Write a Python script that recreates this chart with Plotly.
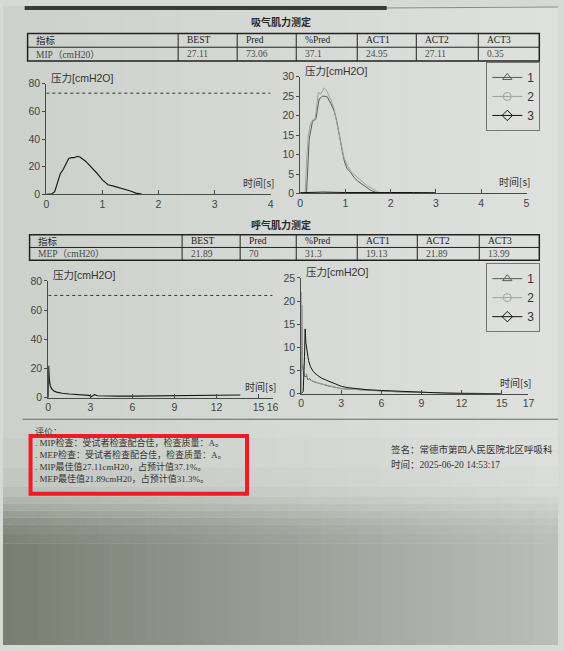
import plotly.graph_objects as go

# ---------------- DATA ----------------
TITLE_MIP = "吸气肌力测定"
TITLE_MEP = "呼气肌力测定"
TABLE_HEADERS = ["指标", "BEST", "Pred", "%Pred", "ACT1", "ACT2", "ACT3"]
MIP_ROW = ["MIP（cmH20）", "27.11", "73.06", "37.1", "24.95", "27.11", "0.35"]
MEP_ROW = ["MEP（cmH20）", "21.89", "70", "31.3", "19.13", "21.89", "13.99"]

MIP_PRED = 73.06
MEP_PRED = 70

MIP_BEST_T = [0, 0.1, 0.15, 0.2, 0.25, 0.3, 0.35, 0.4, 0.45, 0.5, 0.55, 0.6, 0.7, 0.8, 0.9,
              1.0, 1.1, 1.2, 1.3, 1.4, 1.5, 1.6, 1.7]
MIP_BEST_P = [0, 0.5, 2, 9, 15, 18, 22, 26, 26.5, 26.5, 27.5, 27, 24, 20, 15.5,
              10.5, 7, 6, 5, 3.5, 2.5, 1, 0.3]

MIP1_T = [0, 0.14, 0.17, 0.2, 0.24, 0.27, 0.31, 0.35, 0.38, 0.42, 0.46, 0.49, 0.55, 0.6, 0.68,
          0.75, 0.81, 0.86, 0.92, 0.97, 1.03, 1.12, 1.2, 1.27, 1.35, 1.45, 1.56, 1.67, 1.75]
MIP1_P = [0, 0.3, 7, 14, 16.5, 18.4, 18.8, 19.2, 21.5, 24.3, 24.6, 25, 24.95, 24.8, 23,
          21.2, 18.5, 14.9, 11.5, 8.6, 6.5, 5.3, 4, 3.2, 2.5, 1.6, 0.8, 0.3, 0]
MIP2_T = [0, 0.11, 0.14, 0.18, 0.22, 0.25, 0.29, 0.33, 0.37, 0.4, 0.45, 0.49, 0.53, 0.56, 0.6,
          0.68, 0.75, 0.82, 0.9, 0.97, 1.05, 1.12, 1.2, 1.27, 1.38, 1.49, 1.56, 1.63, 1.74, 1.8]
MIP2_P = [0, 0.3, 8, 15, 17.5, 18.4, 19, 19.2, 23, 26, 25.5, 26.5, 27.11, 26.8, 26,
          24, 21.7, 17.5, 13, 9.1, 7, 5.7, 4.8, 4, 3, 1.9, 1.4, 1.1, 0.3, 0]
MIP3_T = [0, 0.5, 1.0, 1.5, 2.0, 2.5, 3.0]
MIP3_P = [0.2, 0.35, 0.25, 0.3, 0.2, 0.25, 0.2]

MEP_BEST_T = [0, 0.03, 0.06, 0.1, 0.15, 0.25, 0.4, 0.6, 0.8, 1.0, 1.5, 2.0, 2.5, 2.9, 3.05,
              3.15, 3.3, 3.5, 4.0, 5.0, 6.0, 7.0, 8.0, 9.0, 10.0, 11.0, 12.0, 13.0, 13.7]
MEP_BEST_P = [0, 21.89, 15, 10.5, 8, 6, 4.5, 3.8, 3.2, 3, 2.5, 2.1, 1.9, 1.6, 0.6,
              1.2, 2.1, 1.3, 1.1, 1.0, 1.1, 1.2, 1.3, 1.5, 1.6, 1.7, 1.8, 1.8, 1.8]

MEP1_T = [0, 0.04, 0.07, 0.1, 0.15, 0.2, 0.3, 0.4, 0.5, 0.6, 0.8, 1.0, 1.3, 1.6, 2.0,
          2.5, 3.0, 3.5, 4.0, 5.0, 6.0, 7.0, 8.0, 9.0, 10.0, 11.0, 12.0, 13.0, 14.0, 14.8]
MEP1_P = [0, 19.13, 9, 6, 5, 4.2, 3.6, 3.9, 3.0, 3.3, 2.8, 2.5, 2.3, 2.0, 1.7,
          1.4, 1.1, 1.0, 0.9, 0.7, 0.55, 0.45, 0.35, 0.25, 0.2, 0.15, 0.1, 0.08, 0.05, 0]
MEP2_T = [0, 0.02, 0.05, 0.09, 0.14, 0.2, 0.3, 0.4, 0.5, 0.7, 0.9, 1.2, 1.5, 2.0, 2.5,
          3.0, 3.5, 4.0, 5.0, 6.0, 7.0, 8.0, 9.0, 10.0, 11.0, 12.0, 13.0, 14.0, 14.8]
MEP2_P = [0, 21.89, 11, 7, 5.5, 4.6, 4.0, 4.4, 3.3, 2.9, 2.7, 2.4, 2.1, 1.8, 1.5,
          1.1, 1.0, 0.9, 0.7, 0.5, 0.45, 0.35, 0.25, 0.18, 0.12, 0.1, 0.07, 0.04, 0]
MEP3_T = [0, 0.15, 0.25, 0.3, 0.35, 0.45, 0.55, 0.7, 0.9, 1.2, 1.5, 1.9, 2.2, 2.6, 3.0,
          3.5, 4.0, 4.5, 5.0, 6.0, 7.0, 8.0, 9.0, 10.0, 11.0, 12.0, 13.0, 14.0, 15.0]
MEP3_P = [0, 0.5, 8, 13.99, 11, 8.5, 7.2, 5.8, 4.8, 4.0, 3.4, 2.9, 2.5, 2.1, 1.6,
          1.3, 1.1, 0.95, 0.85, 0.7, 0.55, 0.4, 0.25, 0.15, 0.1, 0.05, 0.03, 0.01, 0]

TRIAL_NAMES = ["1", "2", "3"]

MIP_X_TICKS = [0, 1, 2, 3, 4]
MIP_Y_TICKS = [0, 20, 40, 60, 80]
MIP_TRIAL_X_TICKS = [0, 1, 2, 3, 4, 5]
MIP_TRIAL_Y_TICKS = [0, 5, 10, 15, 20, 25, 30]
MEP_X_TICKS = [0, 3, 6, 9, 12, 15, 16]
MEP_Y_TICKS = [0, 20, 40, 60, 80]
MEP_TRIAL_X_TICKS = [0, 3, 6, 9, 12, 15, 17]
MEP_TRIAL_Y_TICKS = [0, 5, 10, 15, 20, 25]

Y_LABEL = "压力[cmH2O]"
X_LABEL = "时间[s]"

COMMENT_TITLE = "评价："
COMMENT_LINES = [
    ". MIP检查：受试者检查配合佳，检查质量：A。",
    ". MEP检查：受试者检查配合佳，检查质量：A。",
    ". MIP最佳值27.11cmH20，占预计值37.1%。",
    ". MEP最佳值21.89cmH20，占预计值31.3%。",
]
SIGN_LINE = "签名：常德市第四人民医院北区呼吸科"
TIME_LINE = "时间：2025-06-20 14:53:17"

# ---------------- HELPERS ----------------
W, H = 564, 651
def px(x):
    return x / W
def py(y):
    return 1 - y / H

CJK = "Noto Sans CJK SC"
SERIF = "Liberation Serif, Noto Sans CJK SC"
SANS = "Liberation Sans, Arial, Noto Sans CJK SC"
INK = "#2a2a2a"
AXC = "#4a4a4a"
TRIAL_COLORS = ["#5a5a5a", "#a0a0a0", "#151515"]
TRIAL_SYMBOLS = ["triangle-up-open", "circle-open", "diamond-open"]

fig = go.Figure()
ann = []
shapes = []

# ---------------- BACKGROUND (photo shading) ----------------
def mix(c1, c2, f):
    return tuple(int(round(a + (b - a) * f)) for a, b in zip(c1, c2))

TOP_L, TOP_R = (205, 209, 204), (222, 225, 221)
BOT_L, BOT_R = (122, 126, 114), (186, 190, 187)
NS = 47
VSTEPS = [(0, 440, 0.0), (440, 470, 0.05), (470, 490, 0.12), (490, 500, 0.22), (500, 507, 0.34),
          (507, 514, 0.48), (514, 521, 0.62), (521, 528, 0.75), (528, 537, 0.86), (537, 548, 0.94),
          (548, H, 1.0)]
for i in range(NS):
    f = i / (NS - 1)
    x0, x1 = px(i * 12), px(min((i + 1) * 12 + 1, W))
    top = mix(TOP_L, TOP_R, f)
    bot = mix(BOT_L, BOT_R, f)
    for y0, y1, g in VSTEPS:
        col = mix(top, bot, g)
        shapes.append(dict(type="rect", xref="paper", yref="paper", x0=x0, x1=x1, y0=py(y1), y1=py(y0),
                           fillcolor="rgb(%d,%d,%d)" % col, line=dict(width=0), layer="below"))

# dark edge of the previous page at the top
shapes.append(dict(type="rect", xref="paper", yref="paper", x0=px(22), x1=px(390), y0=py(4), y1=py(0),
                   fillcolor="#3a3a3a", line=dict(width=0), layer="below"))
shapes.append(dict(type="line", xref="paper", yref="paper", x0=px(390), x1=px(564), y0=py(2), y1=py(1),
                   line=dict(color="#888", width=1), layer="below"))

# ---------------- TABLES (text from the row arrays) ----------------
def add_table(row, cols, y_top, y_mid, y_bot):
    shapes.append(dict(type="rect", xref="paper", yref="paper", x0=px(cols[0]), x1=px(cols[-1]),
                       y0=py(y_bot), y1=py(y_top), line=dict(color="#222", width=1.5)))
    shapes.append(dict(type="line", xref="paper", yref="paper", x0=px(cols[0]), x1=px(cols[-1]),
                       y0=py(y_mid), y1=py(y_mid), line=dict(color="#222", width=1)))
    for c in cols[1:-1]:
        shapes.append(dict(type="line", xref="paper", yref="paper", x0=px(c), x1=px(c),
                           y0=py(y_bot), y1=py(y_top), line=dict(color="#222", width=1)))
    for j, (h, v) in enumerate(zip(TABLE_HEADERS, row)):
        xl = cols[j] + 7
        ann.append(dict(text=h, x=px(xl), y=py((y_top + y_mid) / 2), xref="paper", yref="paper",
                        xanchor="left", yanchor="middle", showarrow=False,
                        font=dict(family=SERIF, size=9.5, color="#222")))
        ann.append(dict(text=v, x=px(xl), y=py((y_mid + y_bot) / 2), xref="paper", yref="paper",
                        xanchor="left", yanchor="middle", showarrow=False,
                        font=dict(family=SERIF, size=9.5, color="#4a4a4a")))

add_table(MIP_ROW, [25, 178, 238, 298, 360, 420, 483, 545], 28, 42, 56)
add_table(MEP_ROW, [27, 182, 241, 298, 360, 421, 484, 545], 233, 246, 259)

# ---------------- CURVES ----------------
fig.add_trace(go.Scatter(x=MIP_BEST_T, y=MIP_BEST_P, mode="lines", xaxis="x", yaxis="y",
                         line=dict(color="#1a1a1a", width=1.2), showlegend=False))
fig.add_trace(go.Scatter(x=[MIP_X_TICKS[0], MIP_X_TICKS[-1]], y=[MIP_PRED, MIP_PRED], mode="lines",
                         xaxis="x", yaxis="y", line=dict(color="#333", width=1, dash="dot"),
                         showlegend=False))
for t, p, c in zip([MIP1_T, MIP2_T, MIP3_T], [MIP1_P, MIP2_P, MIP3_P], TRIAL_COLORS):
    fig.add_trace(go.Scatter(x=t, y=p, mode="lines", xaxis="x2", yaxis="y2",
                             line=dict(color=c, width=1), showlegend=False))
fig.add_trace(go.Scatter(x=MEP_BEST_T, y=MEP_BEST_P, mode="lines", xaxis="x3", yaxis="y3",
                         line=dict(color="#1a1a1a", width=1.2), showlegend=False))
fig.add_trace(go.Scatter(x=[MEP_X_TICKS[0], MEP_X_TICKS[-1]], y=[MEP_PRED, MEP_PRED], mode="lines",
                         xaxis="x3", yaxis="y3", line=dict(color="#333", width=1, dash="dot"),
                         showlegend=False))
for t, p, c in zip([MEP1_T, MEP2_T, MEP3_T], [MEP1_P, MEP2_P, MEP3_P], TRIAL_COLORS):
    fig.add_trace(go.Scatter(x=t, y=p, mode="lines", xaxis="x4", yaxis="y4",
                             line=dict(color=c, width=1), showlegend=False))

# legend entries (line + open marker)
for lg, xa, ya in [("legend", "x2", "y2"), ("legend2", "x4", "y4")]:
    for name, c, s in zip(TRIAL_NAMES, TRIAL_COLORS, TRIAL_SYMBOLS):
        fig.add_trace(go.Scatter(x=[None], y=[None], mode="lines+markers", name=name,
                                 xaxis=xa, yaxis=ya, legend=lg,
                                 line=dict(color=c, width=1),
                                 marker=dict(symbol=s, size=8, color=c, line=dict(width=1, color=c))))

# ---------------- AXES ----------------
def xax(dom, ticks, anchor):
    return dict(domain=[px(dom[0]), px(dom[1])], range=[ticks[0], ticks[-1]], anchor=anchor,
                tickmode="array", tickvals=ticks, ticks="inside", ticklen=4, tickcolor=AXC,
                showline=True, linecolor=AXC, linewidth=1, showgrid=False, zeroline=False,
                tickfont=dict(family=SANS, size=10.5, color="#444"), fixedrange=True)

def yax(dom, ticks, anchor):
    return dict(domain=[py(dom[1]), py(dom[0])], range=[ticks[0], ticks[-1]], anchor=anchor,
                tickmode="array", tickvals=ticks, ticks="outside", ticklen=3, tickcolor=AXC,
                showline=True, linecolor=AXC, linewidth=1, showgrid=False, zeroline=False,
                tickfont=dict(family=SANS, size=10.5, color="#444"), fixedrange=True)

layout_axes = dict(
    xaxis=xax((44, 272), MIP_X_TICKS, "y"),
    yaxis=yax((79, 192), MIP_Y_TICKS, "x"),
    xaxis2=xax((302, 532), MIP_TRIAL_X_TICKS, "y2"),
    yaxis2=yax((72, 191), MIP_TRIAL_Y_TICKS, "x2"),
    xaxis3=xax((46, 274), MEP_X_TICKS, "y3"),
    yaxis3=yax((280, 399), MEP_Y_TICKS, "x3"),
    xaxis4=xax((303, 534), MEP_TRIAL_X_TICKS, "y4"),
    yaxis4=yax((277, 395), MEP_TRIAL_Y_TICKS, "x4"),
)

# ---------------- ANNOTATIONS ----------------
ann.append(dict(text=f"<b>{TITLE_MIP}</b>", x=px(282), y=py(16), xref="paper", yref="paper",
                xanchor="center", yanchor="middle",
                showarrow=False, font=dict(family=CJK, size=10, color=INK)))
ann.append(dict(text=f"<b>{TITLE_MEP}</b>", x=px(282), y=py(223), xref="paper", yref="paper",
                xanchor="center", yanchor="middle",
                showarrow=False, font=dict(family=CJK, size=10, color=INK)))

for xa, ya, xt, yt in [("x", "y", MIP_X_TICKS, MIP_Y_TICKS), ("x2", "y2", MIP_TRIAL_X_TICKS, MIP_TRIAL_Y_TICKS),
                       ("x3", "y3", MEP_X_TICKS, MEP_Y_TICKS), ("x4", "y4", MEP_TRIAL_X_TICKS, MEP_TRIAL_Y_TICKS)]:
    ann.append(dict(text=Y_LABEL, x=xt[0], y=yt[-1], xref=xa, yref=ya, xanchor="left", yanchor="middle",
                    xshift=3, yshift=6, showarrow=False, font=dict(family=SANS, size=10.5, color="#333")))
    ann.append(dict(text=X_LABEL, x=xt[-1], y=yt[0], xref=xa, yref=ya, xanchor="right", yanchor="bottom",
                    xshift=5, yshift=2, showarrow=False, font=dict(family=CJK, size=10, color="#333")))

ann.append(dict(text=COMMENT_TITLE, x=px(30), y=py(434), xref="paper", yref="paper", xanchor="left",
                yanchor="middle", showarrow=False, font=dict(family=SERIF, size=9, color="#444")))
for i, line in enumerate(COMMENT_LINES):
    ann.append(dict(text=line, x=px(30), y=py(445 + 12 * i), xref="paper", yref="paper", xanchor="left",
                    yanchor="middle", showarrow=False, font=dict(family=SERIF, size=9, color="#333")))
ann.append(dict(text=SIGN_LINE, x=px(392), y=py(452), xref="paper", yref="paper", xanchor="left",
                yanchor="middle", showarrow=False, font=dict(family=SERIF, size=9.5, color="#333")))
ann.append(dict(text=TIME_LINE, x=px(392), y=py(467), xref="paper", yref="paper", xanchor="left",
                yanchor="middle", showarrow=False, font=dict(family=SERIF, size=9.5, color="#333")))

# separator rule and red highlight box
shapes.append(dict(type="line", xref="paper", yref="paper", x0=px(20), x1=px(564), y0=py(421), y1=py(421),
                   line=dict(color="#666", width=1)))
shapes.append(dict(type="rect", xref="paper", yref="paper", x0=px(28), x1=px(248), y0=py(497), y1=py(438),
                   line=dict(color="#ee1c24", width=4)))

fig.update_layout(
    width=W, height=H, autosize=False,
    margin=dict(l=0, r=0, t=0, b=0),
    paper_bgcolor="#d6d9d5", plot_bgcolor="rgba(0,0,0,0)",
    annotations=ann, shapes=shapes,
    legend=dict(x=px(546), xanchor="right", y=py(57), yanchor="top", bgcolor="rgba(0,0,0,0)",
                bordercolor="#777", borderwidth=1, itemwidth=30, tracegroupgap=0,
                font=dict(family=SANS, size=12, color="#333")),
    legend2=dict(x=px(546), xanchor="right", y=py(262), yanchor="top", bgcolor="rgba(0,0,0,0)",
                 bordercolor="#777", borderwidth=1, itemwidth=30, tracegroupgap=0,
                 font=dict(family=SANS, size=12, color="#333")),
    **layout_axes,
)

fig.write_html(
    "out.html",
    config={"displayModeBar": False},
    post_script="document.body.style.margin='0';document.body.style.overflow='hidden';",
)
